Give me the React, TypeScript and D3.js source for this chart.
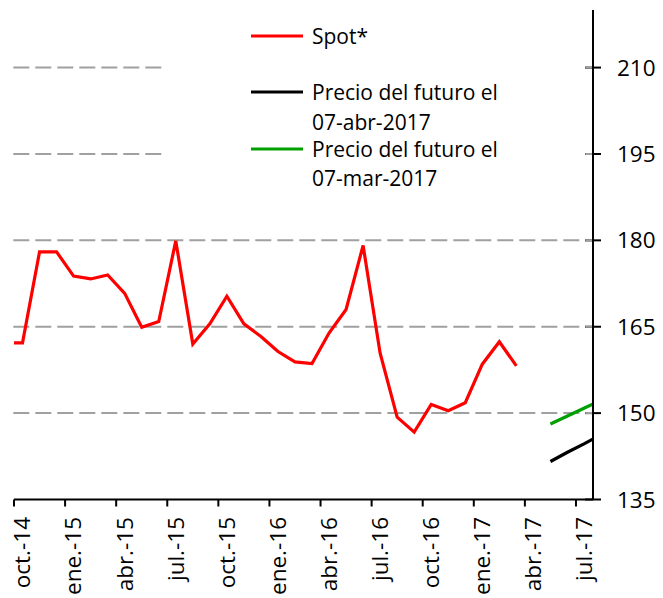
import React from 'react'
import * as d3 from 'd3'

const width = 663;
const height = 598;

// month strings are YYYY-MM, points sit in the middle of each month
const spotDates = [
  '2014-09', '2014-10', '2014-11', '2014-12', '2015-01', '2015-02', '2015-03', '2015-04',
  '2015-05', '2015-06', '2015-07', '2015-08', '2015-09', '2015-10', '2015-11', '2015-12',
  '2016-01', '2016-02', '2016-03', '2016-04', '2016-05', '2016-06', '2016-07', '2016-08',
  '2016-09', '2016-10', '2016-11', '2016-12', '2017-01', '2017-02', '2017-03'
]
const spotValues = [
  162.2, 162.2, 178.0, 178.0, 173.8, 173.3, 174.0, 170.8,
  164.9, 165.9, 179.9, 162.0, 165.5, 170.3, 165.5, 163.3,
  160.7, 158.9, 158.6, 163.9, 168.0, 179.1, 160.4, 149.3,
  146.7, 151.5, 150.4, 151.8, 158.5, 162.4, 158.2
]

const futureDates = ['2017-05', '2017-06', '2017-07', '2017-08']
const futureApr = [141.6, 143.2, 144.7, 146.3]
const futureMar = [148.1, 149.5, 150.9, 152.3]

const tickLabels = [
  'oct.-14', 'ene.-15', 'abr.-15', 'jul.-15', 'oct.-15', 'ene.-16',
  'abr.-16', 'jul.-16', 'oct.-16', 'ene.-17', 'abr.-17', 'jul.-17'
]
const yTicks = [135, 150, 165, 180, 195, 210]

const legendItems = [
  { color: '#ff0000', lines: ['Spot*'] },
  { color: '#000000', lines: ['Precio del futuro el', '07-abr-2017'] },
  { color: '#00a000', lines: ['Precio del futuro el', '07-mar-2017'] }
]

const font = '"Open Sans", sans-serif'

// months after oct-2014
const monthIndex = (s: string) => {
  const [yr, mo] = s.split('-').map(Number)
  return (yr - 2014) * 12 + (mo - 10)
}

const x = d3.scaleLinear().domain([0, 34]).range([14, 593])
const y = d3.scaleLinear().domain([135, 220]).range([499.5, 10])

const line = d3.line<[string, number]>()
  .x(d => x(monthIndex(d[0]) + 0.5))
  .y(d => y(d[1]))

const App = () => {
  const x0 = x.range()[0]
  const x1 = x.range()[1]
  const yBottom = y(135)
  const yTop = y(220)

  const series = [
    { color: '#ff0000', path: line(d3.zip(spotDates, spotValues) as [string, number][]) },
    { color: '#000000', path: line(d3.zip(futureDates, futureApr) as [string, number][]) },
    { color: '#00a000', path: line(d3.zip(futureDates, futureMar) as [string, number][]) }
  ]

  const legendY = [36, 92, 149]
  const textY = [[44], [100, 130], [157, 186]]

  return (
    <svg width={width} height={height} style={{ position: 'absolute', left: 0, top: 0, background: '#fff' }}>
      <defs>
        <clipPath id="plot">
          <rect x={x0} y={yTop} width={x1 - x0} height={yBottom - yTop} />
        </clipPath>
      </defs>

      {/* y ticks, crossing the axis */}
      {yTicks.map(t =>
        <line key={'yt' + t} x1={x1 - 8} x2={x1 + 8} y1={y(t)} y2={y(t)} stroke="#000" strokeWidth={2} />
      )}

      {/* dashed grid */}
      {yTicks.filter(t => t > 135).map(t =>
        <line key={'g' + t} x1={x0 - 0.7} x2={x1} y1={y(t)} y2={y(t)}
          stroke="#a0a0a0" strokeWidth={2} strokeDasharray="16 6" />
      )}

      {/* legend box hides part of the grid */}
      <rect x={166} y={12} width={415} height={190} fill="#fff" />
      {legendItems.map((d, i) =>
        <g key={'l' + i}>
          <line x1={251} x2={303} y1={legendY[i]} y2={legendY[i]} stroke={d.color} strokeWidth={3} />
          {d.lines.map((s, j) =>
            <text key={j} x={312} y={textY[i][j]} fontFamily={font} fontSize={21} fill="#000">{s}</text>
          )}
        </g>
      )}

      <g clipPath="url(#plot)">
        {series.map((s, i) =>
          <path key={'s' + i} d={s.path || ''} fill="none" stroke={s.color} strokeWidth={3.2} strokeLinejoin="miter" />
        )}
      </g>

      {/* axes */}
      <line x1={x0} x2={x1} y1={yBottom} y2={yBottom} stroke="#000" strokeWidth={2} />
      <line x1={x1} x2={x1} y1={yTop} y2={yBottom} stroke="#000" strokeWidth={2} />
      {tickLabels.map((lab, i) => {
        const tx = x(i * 3)
        return (
          <g key={'xt' + i}>
            <line x1={tx} x2={tx} y1={yBottom} y2={yBottom + 7} stroke="#000" strokeWidth={2} />
            <text transform={`translate(${x(i * 3 + 0.5)},${517}) rotate(-90)`} dy="0.35em"
              textAnchor="end" fontFamily={font} fontSize={22.5} fill="#000">{lab}</text>
          </g>
        )
      })}
      {yTicks.map(t =>
        <text key={'yl' + t} x={617} y={y(t)} dy="0.36em" fontFamily={font} fontSize={22.5} fill="#000">{t}</text>
      )}
    </svg>
  )
}

export default App
